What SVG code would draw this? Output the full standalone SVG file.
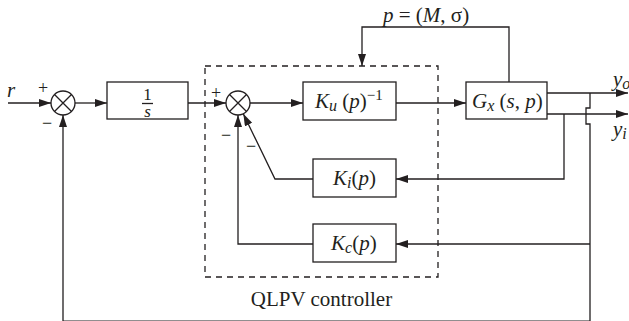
<svg xmlns="http://www.w3.org/2000/svg" width="629" height="321" viewBox="0 0 629 321">
<defs>
<style>
.ln{fill:none;stroke:#231f20;stroke-width:1.3}
.bx{fill:#fff;stroke:#231f20;stroke-width:1.3}
.t{font-family:"Liberation Serif","Times New Roman","DejaVu Serif",serif;fill:#231f20}
.i{font-style:italic}
</style>
<marker id="ah" markerUnits="userSpaceOnUse" markerWidth="13" markerHeight="9" refX="12" refY="4" orient="auto">
<path d="M0,0 L12,4 L0,8 z" fill="#231f20"/>
</marker>
</defs>
<rect width="629" height="321" fill="#fff"/>
<g id="connectors">
<line class="ln" x1="8" y1="103" x2="51" y2="103" marker-end="url(#ah)"/>
<line class="ln" x1="75" y1="103" x2="107" y2="103" marker-end="url(#ah)"/>
<line class="ln" x1="188" y1="103" x2="226" y2="103" marker-end="url(#ah)"/>
<line class="ln" x1="250" y1="103" x2="303" y2="103" marker-end="url(#ah)"/>
<line class="ln" x1="396" y1="103" x2="466" y2="103" marker-end="url(#ah)"/>
<line class="ln" x1="547" y1="93" x2="628" y2="93" marker-end="url(#ah)"/>
<line class="ln" x1="547" y1="114" x2="628" y2="114" marker-end="url(#ah)"/>
<polyline class="ln" points="509,82 509,27 362,27 362,66" marker-end="url(#ah)"/>
<polyline class="ln" points="564,114 564,179 396,179" marker-end="url(#ah)"/>
<polyline class="ln" points="313,179 275,179 243.3,113.8" marker-end="url(#ah)"/>
<polyline class="ln" points="590,93 590,108 586,108 586,124 590,124 590,321.2 63,321.2 63,115" marker-end="url(#ah)"/>
<line class="ln" x1="590" y1="244" x2="396" y2="244" marker-end="url(#ah)"/>
<polyline class="ln" points="313,244 238,244 238,115" marker-end="url(#ah)"/>
</g>
<g id="controller-boundary">
<rect x="205" y="66" width="233" height="211" fill="none" stroke="#231f20" stroke-width="1.3" stroke-dasharray="6,5"/>
<text class="t" x="321.5" y="306" font-size="21" text-anchor="middle">QLPV controller</text>
</g>
<g id="sum1">
<circle class="bx" cx="63" cy="103" r="12"/>
<path class="ln" d="M54.5,94.5 L71.5,111.5 M71.5,94.5 L54.5,111.5"/>
<text class="t" x="43" y="94" font-size="18" text-anchor="middle">+</text>
<text class="t" x="47" y="129" font-size="18" text-anchor="middle">−</text>
</g>
<g id="sum2">
<circle class="bx" cx="238" cy="103" r="12"/>
<path class="ln" d="M229.5,94.5 L246.5,111.5 M246.5,94.5 L229.5,111.5"/>
<text class="t" x="216" y="99" font-size="18" text-anchor="middle">+</text>
<text class="t" x="226" y="141" font-size="18" text-anchor="middle">−</text>
<text class="t" x="251" y="152" font-size="18" text-anchor="middle">−</text>
</g>
<g id="input-r">
<text class="t i" x="7" y="97" font-size="21">r</text>
</g>
<g id="integrator">
<rect class="bx" x="107" y="82" width="81" height="37"/>
<text class="t" x="147.5" y="99.5" font-size="17" text-anchor="middle">1</text>
<line class="ln" x1="142" y1="103.5" x2="153" y2="103.5" stroke-width="1"/>
<text class="t i" x="147.5" y="117" font-size="17" text-anchor="middle">s</text>
</g>
<g id="Ku">
<rect class="bx" x="303" y="82" width="93" height="38"/>
<text class="t" x="315" y="108" font-size="21"><tspan class="i">K</tspan><tspan class="i" font-size="16" dy="3">u</tspan><tspan dy="-3"> (</tspan><tspan class="i">p</tspan>)<tspan font-size="15" dy="-8">−1</tspan></text>
</g>
<g id="Gx">
<rect class="bx" x="466" y="82" width="81" height="37"/>
<text class="t" x="472" y="108" font-size="21"><tspan class="i">G</tspan><tspan class="i" font-size="16" dy="3">x</tspan><tspan dy="-3"> (</tspan><tspan class="i">s</tspan>, <tspan class="i">p</tspan>)</text>
</g>
<g id="Ki">
<rect class="bx" x="313" y="159" width="83" height="38"/>
<text class="t" x="333" y="185" font-size="21"><tspan class="i">K</tspan><tspan class="i" font-size="16" dy="3">i</tspan><tspan dy="-3">(</tspan><tspan class="i">p</tspan>)</text>
</g>
<g id="Kc">
<rect class="bx" x="313" y="224" width="83" height="38"/>
<text class="t" x="331" y="250" font-size="21"><tspan class="i">K</tspan><tspan class="i" font-size="16" dy="3">c</tspan><tspan dy="-3">(</tspan><tspan class="i">p</tspan>)</text>
</g>
<g id="p-label">
<text class="t" x="383" y="22" font-size="21"><tspan class="i">p</tspan> = (<tspan class="i">M</tspan>, σ)</text>
</g>
<g id="outputs">
<text class="t" x="613" y="86" font-size="21"><tspan class="i">y</tspan><tspan class="i" font-size="16" dy="3">o</tspan></text>
<text class="t" x="613" y="136" font-size="21"><tspan class="i">y</tspan><tspan class="i" font-size="16" dy="3">i</tspan></text>
</g>
</svg>
